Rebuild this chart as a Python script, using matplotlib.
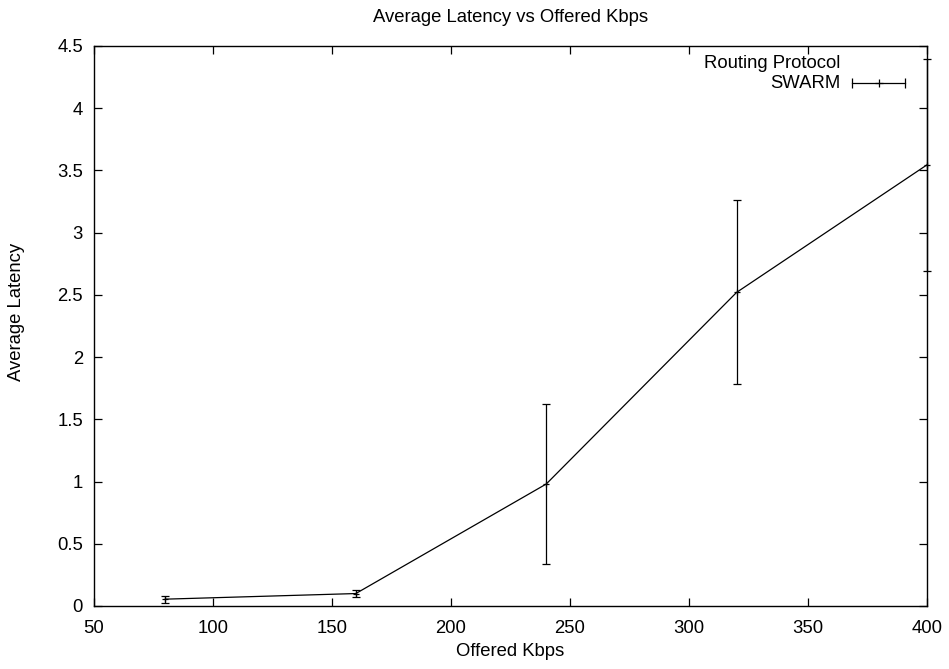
import matplotlib
matplotlib.use("Agg")
import matplotlib.pyplot as plt

plt.rcParams['font.family'] = ['Liberation Sans', 'DejaVu Sans']

offered_kbps = [80, 160, 240, 320, 400]
avg_latency = [0.055, 0.10, 0.98, 2.52, 3.545]
latency_err = [0.027, 0.03, 0.64, 0.74, 0.85]

x_ticks = [50, 100, 150, 200, 250, 300, 350, 400]
y_ticks = [0, 0.5, 1, 1.5, 2, 2.5, 3, 3.5, 4, 4.5]
y_tick_labels = ['0', '0.5', '1', '1.5', '2', '2.5', '3', '3.5', '4', '4.5']

FS = 13.3

fig = plt.figure(figsize=(9.49, 6.69), dpi=100)
ax = fig.add_axes([94/949, 63/669, (927-94)/949, (606-46)/669])

ax.errorbar(offered_kbps, avg_latency, yerr=latency_err, color='black',
            linewidth=0.9, elinewidth=0.9, capsize=3, capthick=0.9,
            marker='+', markersize=5, markeredgewidth=0.9, clip_on=False, zorder=3)

ax.set_xlim(50, 400)
ax.set_ylim(0, 4.5)
ax.set_xticks(x_ticks)
ax.set_xticklabels([str(v) for v in x_ticks])
ax.set_yticks(y_ticks)
ax.set_yticklabels(y_tick_labels)
ax.tick_params(direction='in', length=6, width=0.9, top=True, right=True,
               labelsize=FS, color='black')
ax.tick_params(axis='x', pad=10)
ax.tick_params(axis='y', pad=8)
for s in ax.spines.values():
    s.set_linewidth(1.0)

ax.set_title('Average Latency vs Offered Kbps', fontsize=FS, pad=0, y=1.0)
ax.title.set_position((0.5, (606 - 17) / 560 - 0.0))
ax.title.set_va('center')
ax.set_xlabel('Offered Kbps', fontsize=FS)
ax.xaxis.set_label_coords(0.5, (606 - 651) / 560)
ax.xaxis.label.set_va('center')
ax.set_ylabel('Average Latency', fontsize=FS)
ax.yaxis.set_label_coords((17 - 94) / 833, (606 - 312) / 560)
ax.yaxis.label.set_va('center')

# legend (gnuplot style key)
tr = ax.transAxes
def ax_x(px):
    return (px - 94) / (927 - 94)
def ax_y(py):
    return (606 - py) / (606 - 46)
ax.text(ax_x(840), ax_y(63), 'Routing Protocol', transform=tr, ha='right', va='center', fontsize=FS)
ax.text(ax_x(840), ax_y(83), 'SWARM', transform=tr, ha='right', va='center', fontsize=FS)
ax.plot([ax_x(852), ax_x(905)], [ax_y(83), ax_y(83)], transform=tr, color='black', linewidth=0.9)
ax.plot([ax_x(852), ax_x(905)], [ax_y(83), ax_y(83)], transform=tr, color='black', linestyle='none',
        marker='|', markersize=7, markeredgewidth=0.9)
ax.plot([ax_x(878.5)], [ax_y(83)], transform=tr, color='black', marker='+', markersize=6, markeredgewidth=0.9)

fig.savefig('out.png', dpi=100)
